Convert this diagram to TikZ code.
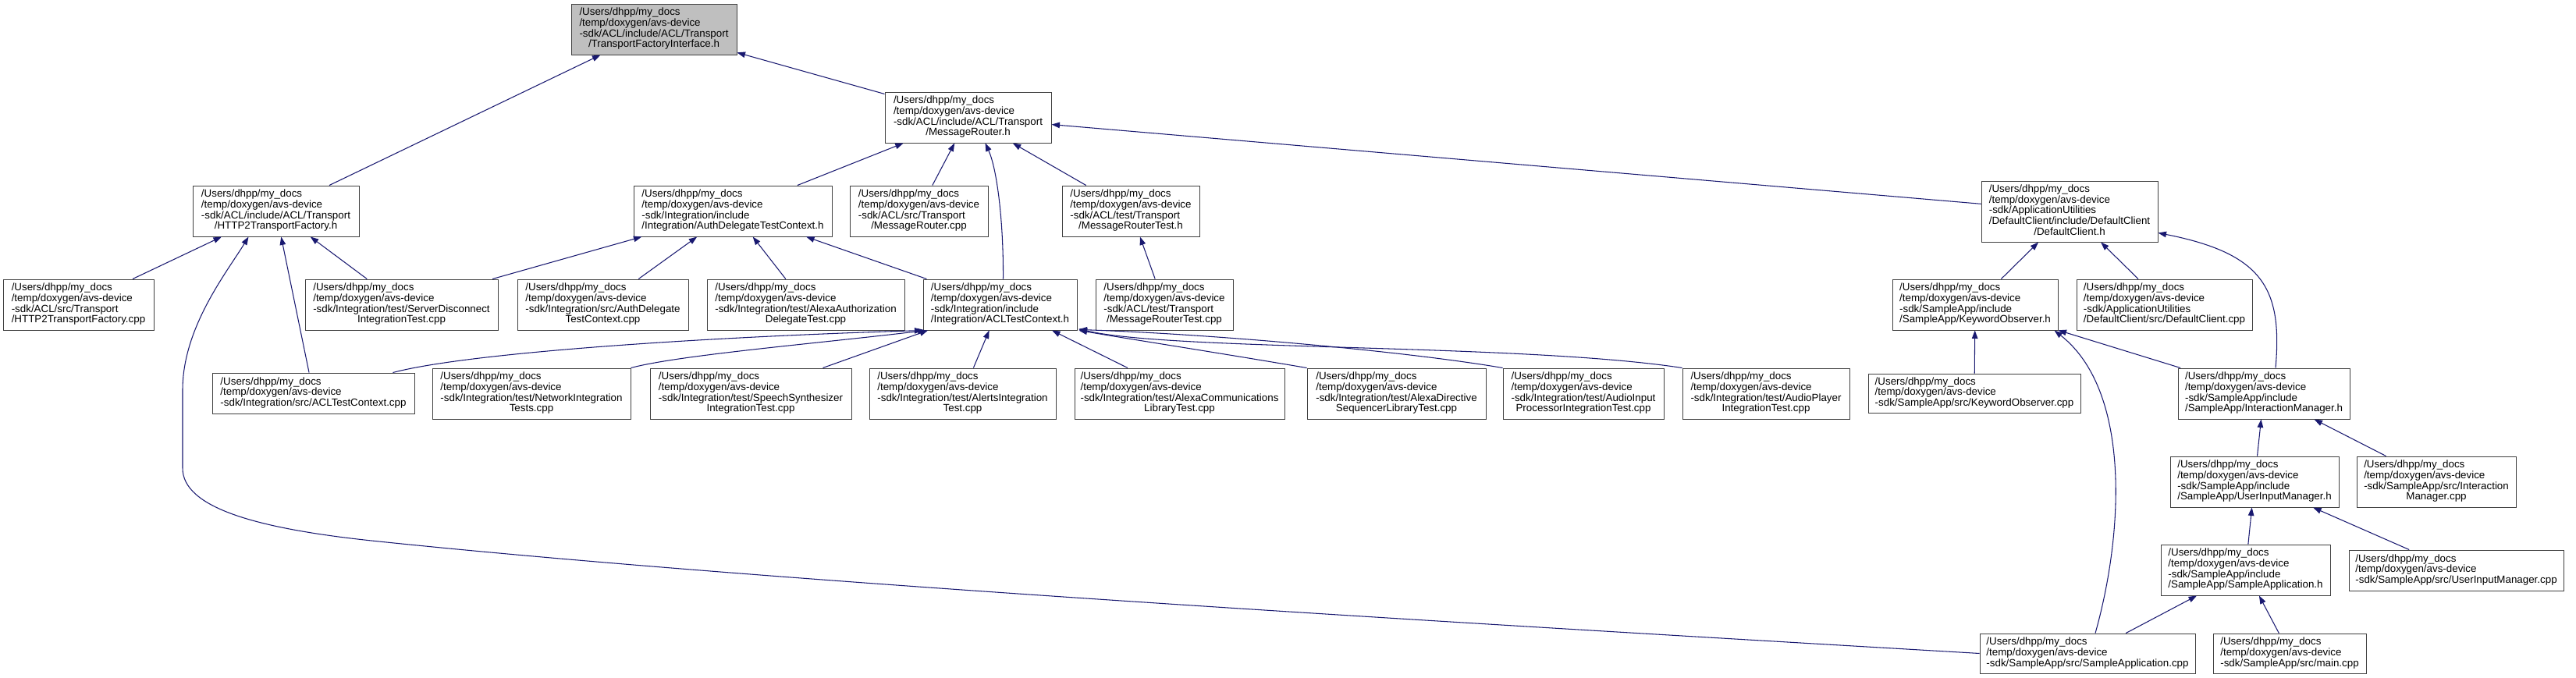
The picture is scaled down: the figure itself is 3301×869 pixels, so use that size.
\documentclass[tikz,border=0pt]{standalone}
\usepackage{fontspec}
\setmainfont{Liberation Sans}
\usetikzlibrary{arrows.meta, calc}
\definecolor{DoxEdge}{HTML}{191970}
\definecolor{DoxLine}{HTML}{404040}
\definecolor{DoxRoot}{HTML}{BFBFBF}

\newcommand{\dpre}{/Users/dhpp/my\_docs\\/temp/doxygen/avs-device}
\newcommand{\flab}[2]{\begin{tabular}{@{}l@{}}\dpre\\#1\\\multicolumn{1}{@{}c@{}}{#2}\end{tabular}}
\newcommand{\flabs}[1]{\begin{tabular}{@{}l@{}}\dpre\\#1\end{tabular}}

\begin{document}
\begin{tikzpicture}[x=0.2mm, y=-0.2mm,
    fbox/.style={draw=DoxLine, line width=0.55pt, fill=white, inner sep=0pt,
      minimum height=13mm, font=\fontsize{7.6}{7.6}\selectfont},
    wd/.style={minimum width=#1*0.2mm},
    ht/.style={minimum height=#1*0.2mm},
    dep/.style={DoxEdge, line width=0.6pt, -{Triangle[length=2.1mm, width=1.5mm]}}]
  \useasboundingbox (0,0) rectangle (3301,869);

  % Raiz
  \node[fbox, fill=DoxRoot, wd=212] (tfi) at (838,37.5) {\flab{-sdk/ACL/include/ACL/Transport}{/TransportFactoryInterface.h}};
  \node[fbox, wd=213] (mrh) at (1240.5,150.5) {\flab{-sdk/ACL/include/ACL/Transport}{/MessageRouter.h}};

  % Nivel 2
  \node[fbox, wd=213] (http2h) at (353.5,270.5) {\flab{-sdk/ACL/include/ACL/Transport}{/HTTP2TransportFactory.h}};
  \node[fbox, wd=254] (adtch) at (939,270.5) {\flab{-sdk/Integration/include}{/Integration/AuthDelegateTestContext.h}};
  \node[fbox, wd=177] (mrcpp) at (1177.5,270.5) {\flab{-sdk/ACL/src/Transport}{/MessageRouter.cpp}};
  \node[fbox, wd=176] (mrth) at (1449,270.5) {\flab{-sdk/ACL/test/Transport}{/MessageRouterTest.h}};
  \node[fbox, wd=226, ht=78] (dch) at (2652,271) {\flab{-sdk/ApplicationUtilities\\/DefaultClient/include/DefaultClient}{/DefaultClient.h}};

  % Nivel 3
  \node[fbox, wd=193] (http2cpp) at (100.5,390.5) {\flab{-sdk/ACL/src/Transport}{/HTTP2TransportFactory.cpp}};
  \node[fbox, wd=247] (sdit) at (514.5,390.5) {\flab{-sdk/Integration/test/ServerDisconnect}{IntegrationTest.cpp}};
  \node[fbox, wd=219] (adtccpp) at (772.5,390.5) {\flab{-sdk/Integration/src/AuthDelegate}{TestContext.cpp}};
  \node[fbox, wd=253] (aad) at (1032.5,390.5) {\flab{-sdk/Integration/test/AlexaAuthorization}{DelegateTest.cpp}};
  \node[fbox, wd=197] (aclh) at (1281.5,390.5) {\flab{-sdk/Integration/include}{/Integration/ACLTestContext.h}};
  \node[fbox, wd=176] (mrtcpp) at (1492,390.5) {\flab{-sdk/ACL/test/Transport}{/MessageRouterTest.cpp}};
  \node[fbox, wd=212] (koh) at (2531,390.5) {\flab{-sdk/SampleApp/include}{/SampleApp/KeywordObserver.h}};
  \node[fbox, wd=225] (dccpp) at (2773.5,390.5) {\flab{-sdk/ApplicationUtilities}{/DefaultClient/src/DefaultClient.cpp}};

  % Nivel 4
  \node[fbox, wd=259, ht=52] (aclcpp) at (401.5,504) {\flabs{-sdk/Integration/src/ACLTestContext.cpp}};
  \node[fbox, wd=254] (nit) at (681,504.5) {\flab{-sdk/Integration/test/NetworkIntegration}{Tests.cpp}};
  \node[fbox, wd=258] (ssit) at (962,504.5) {\flab{-sdk/Integration/test/SpeechSynthesizer}{IntegrationTest.cpp}};
  \node[fbox, wd=239] (ait) at (1233.5,504.5) {\flab{-sdk/Integration/test/AlertsIntegration}{Test.cpp}};
  \node[fbox, wd=269] (aclt) at (1511.5,504.5) {\flab{-sdk/Integration/test/AlexaCommunications}{LibraryTest.cpp}};
  \node[fbox, wd=229] (adsl) at (1789.5,504.5) {\flab{-sdk/Integration/test/AlexaDirective}{SequencerLibraryTest.cpp}};
  \node[fbox, wd=206] (aipi) at (2029,504.5) {\flab{-sdk/Integration/test/AudioInput}{ProcessorIntegrationTest.cpp}};
  \node[fbox, wd=214] (api) at (2263,504.5) {\flab{-sdk/Integration/test/AudioPlayer}{IntegrationTest.cpp}};
  \node[fbox, wd=272, ht=50] (kocpp) at (2530,504) {\flabs{-sdk/SampleApp/src/KeywordObserver.cpp}};
  \node[fbox, wd=220] (imh) at (2901,504.5) {\flab{-sdk/SampleApp/include}{/SampleApp/InteractionManager.h}};

  % Nivel 5 a 7
  \node[fbox, wd=216] (uimh) at (2889,617.5) {\flab{-sdk/SampleApp/include}{/SampleApp/UserInputManager.h}};
  \node[fbox, wd=204] (imcpp) at (3122,617.5) {\flab{-sdk/SampleApp/src/Interaction}{Manager.cpp}};
  \node[fbox, wd=217] (sah) at (2877.5,730.5) {\flab{-sdk/SampleApp/include}{/SampleApp/SampleApplication.h}};
  \node[fbox, wd=275, ht=52] (uimcpp) at (3147.5,731) {\flabs{-sdk/SampleApp/src/UserInputManager.cpp}};
  \node[fbox, wd=276, ht=51] (sacpp) at (2675,837.5) {\flabs{-sdk/SampleApp/src/SampleApplication.cpp}};
  \node[fbox, wd=196, ht=51] (maincpp) at (2934,837.5) {\flabs{-sdk/SampleApp/src/main.cpp}};

  % Dependencias diretas
  \foreach \a/\b in {http2h/tfi, mrh/tfi, http2cpp/http2h, aclcpp/http2h, sdit/http2h,
      adtch/mrh, mrcpp/mrh, mrth/mrh, dch/mrh, sdit/adtch, adtccpp/adtch, aad/adtch,
      aclh/adtch, mrtcpp/mrth, koh/dch, dccpp/dch, ssit/aclh, ait/aclh, aclt/aclh,
      kocpp/koh, imh/koh, uimh/imh, imcpp/imh, sah/uimh, uimcpp/uimh, sacpp/sah, maincpp/sah}
    \draw[dep] (\a) -- (\b);

  % Dependencias curvas
  \draw[dep] (sacpp.west) .. controls (1900,800) and (1000,748) .. (476,693)
    .. controls (326,677) and (234,650) .. (234,600) -- (234,500)
    .. controls (234,420) and (290,350) .. ($(http2h.south)+(-35,0)$);
  \draw[dep] ($(aclh.north)+(4,0)$) .. controls (1286,280) and (1277,215) .. ($(mrh.south)+(22,0)$);
  \draw[dep] ($(imh.north)+(15,0)$) .. controls (2925,370) and (2900,325) .. ($(dch.south east)+(0,-12)$);
  \draw[dep] ($(sacpp.north)+(10,0)$) .. controls (2722,680) and (2730,500) .. ($(koh.south east)+(-5,0)$);
  \draw[dep] ($(aclcpp.north east)+(-28,0)$) .. controls (600,452) and (900,432) .. (aclh.south west);
  \draw[dep] (nit.north east) .. controls (870,455) and (1050,440) .. ($(aclh.south west)+(4,0)$);
  \draw[dep] (adsl.north west) .. controls (1560,452) and (1450,435) .. ($(aclh.south east)+(2,0)$);
  \draw[dep] (aipi.north west) .. controls (1800,450) and (1550,428) .. ($(aclh.south east)+(2,-1)$);
  \draw[dep] (api.north west) .. controls (1950,440) and (1500,450) .. ($(aclh.south east)+(2,-2)$);
\end{tikzpicture}
\end{document}
